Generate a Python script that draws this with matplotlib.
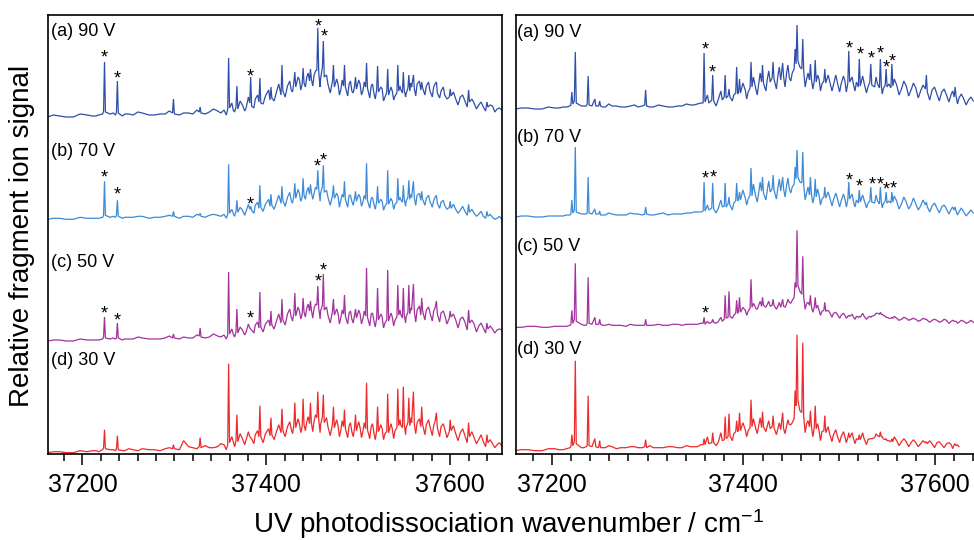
import numpy as np
import matplotlib
matplotlib.use("Agg")
import matplotlib.pyplot as plt
from matplotlib.ticker import MultipleLocator, FuncFormatter

plt.rcParams['font.family'] = ['Liberation Sans', 'DejaVu Sans']
plt.rcParams['mathtext.fontset'] = 'custom'
plt.rcParams['mathtext.rm'] = 'Liberation Sans'
plt.rcParams['mathtext.it'] = 'Liberation Sans:italic'

nan = np.nan

# ---------------- data: left panel (wavenumber, cm^-1) ----------------
# main sampling points (band peaks and their feet)
left_x = [
    37162, 37175, 37190, 37205, 37215, 37222, 37223, 37224, 37225, 37230,
    37236, 37237, 37238, 37239, 37246, 37255, 37265, 37278, 37290, 37298,
    37299, 37300, 37310, 37320, 37327, 37328, 37329, 37338, 37347, 37354,
    37358, 37359, 37360, 37364, 37367, 37368, 37369, 37374, 37378, 37382,
    37383, 37384, 37388, 37392, 37393, 37394, 37399, 37404, 37405, 37406,
    37411, 37416, 37417, 37418, 37423, 37427, 37430, 37431, 37432, 37436,
    37439, 37440, 37441, 37444, 37447, 37448, 37449, 37452, 37455, 37456,
    37457, 37459, 37461, 37462, 37463, 37467, 37472, 37473, 37474, 37478,
    37481, 37484, 37485, 37486, 37490, 37493, 37496, 37497, 37498, 37502,
    37505, 37508, 37509, 37510, 37514, 37517, 37520, 37521, 37522, 37526,
    37529, 37531, 37532, 37533, 37537, 37540, 37542, 37543, 37544, 37546,
    37548, 37549, 37550, 37552, 37554, 37555, 37556, 37558, 37560, 37561,
    37564, 37568, 37569, 37570, 37574, 37578, 37582, 37585, 37586, 37590,
    37594, 37599, 37600, 37601, 37606, 37611, 37616, 37620, 37621, 37626,
    37631, 37636, 37640, 37641, 37646, 37651, 37656,
]
left_a_90V = [
    0, 1, 0, 2, 1, 3, 6, 55, 5, 3,
    2, 5, 36, 4, 3, 2, 4, 2, 3, 4,
    18, 3, 4, 3, 5, 10, 4, 5, 6, 7,
    8, 59, 9, 7, 10, 31, 8, 12, 9, 14,
    40, 11, 18, 15, 39, 14, 21, 17, 30, 19,
    25, 22, 52, 26, 31, 27, 35, 45, 30, 37,
    33, 49, 34, 40, 36, 48, 38, 42, 47, 89,
    44, 38, 50, 76, 40, 33, 36, 52, 30, 33,
    27, 31, 52, 30, 33, 26, 31, 40, 28, 33,
    26, 30, 54, 29, 31, 24, 27, 51, 25, 28,
    20, 25, 48, 22, 26, 21, 24, 52, 26, 28,
    24, 45, 27, 23, 29, 42, 26, 30, 42, 28,
    33, 27, 35, 29, 31, 26, 30, 35, 24, 26,
    22, 20, 28, 21, 18, 20, 16, 27, 15, 14,
    12, 10, 15, 10, 11, 8, 7,
]
left_b_70V = [
    0, 1, 0, 1, 1, 2, 4, 38, 4, 2,
    2, 4, 19, 3, 2, 2, 3, 2, 3, 3,
    8, 3, 3, 2, 4, 6, 3, 4, 4, 5,
    5, 55, 6, 6, 8, 19, 7, 9, 8, 10,
    13, 9, 14, 11, 34, 12, 15, 13, 25, 14,
    17, 16, 33, 19, 22, 19, 24, 36, 21, 26,
    22, 41, 24, 28, 25, 35, 27, 26, 30, 49,
    30, 26, 33, 54, 27, 22, 24, 34, 21, 23,
    19, 22, 38, 20, 24, 18, 21, 28, 18, 22,
    17, 20, 56, 19, 21, 15, 18, 33, 16, 18,
    13, 16, 49, 15, 18, 15, 17, 41, 19, 20,
    17, 34, 20, 18, 22, 39, 20, 22, 38, 21,
    24, 19, 28, 20, 21, 18, 19, 24, 16, 17,
    14, 12, 18, 11, 10, 9, 8, 15, 7, 6,
    5, 3, 8, 3, 2, 1, 0,
]
left_c_50V = [
    0, 1, 0, 1, 1, 2, 4, 24, 3, 2,
    2, 3, 18, 3, 2, 2, 3, 2, 3, 3,
    7, 3, 4, 3, 5, 13, 4, 4, 5, 6,
    6, 69, 7, 7, 9, 32, 8, 11, 9, 13,
    12, 11, 16, 13, 49, 14, 17, 15, 30, 16,
    20, 18, 42, 21, 27, 24, 28, 48, 25, 30,
    27, 43, 29, 33, 30, 40, 31, 33, 36, 55,
    33, 30, 36, 67, 31, 26, 30, 42, 26, 28,
    23, 27, 46, 25, 28, 22, 26, 32, 23, 27,
    22, 25, 73, 24, 27, 20, 23, 53, 21, 24,
    18, 21, 71, 20, 24, 21, 24, 56, 26, 27,
    23, 53, 26, 24, 29, 56, 27, 31, 57, 29,
    31, 26, 43, 30, 31, 28, 30, 40, 27, 28,
    26, 23, 30, 24, 21, 22, 19, 31, 18, 17,
    15, 13, 18, 12, 12, 11, 11,
]
left_d_30V = [
    0, 1, 0, 1, 2, 3, 5, 23, 4, 3,
    2, 4, 17, 3, 2, 3, 4, 3, 4, 4,
    8, 4, 12, 5, 6, 15, 5, 5, 6, 8,
    8, 89, 10, 11, 12, 38, 11, 14, 13, 16,
    15, 14, 18, 16, 47, 16, 19, 17, 35, 18,
    21, 20, 44, 22, 26, 24, 28, 50, 25, 29,
    26, 54, 28, 31, 29, 50, 30, 32, 35, 61,
    33, 28, 36, 58, 30, 26, 29, 46, 25, 27,
    22, 26, 43, 24, 27, 21, 25, 38, 22, 25,
    21, 24, 70, 23, 26, 20, 22, 46, 21, 24,
    19, 21, 59, 20, 24, 22, 25, 64, 27, 28,
    25, 66, 28, 25, 30, 55, 27, 30, 61, 28,
    30, 26, 46, 28, 28, 26, 27, 40, 25, 26,
    24, 21, 33, 22, 19, 20, 17, 30, 16, 15,
    13, 11, 18, 10, 9, 8, 7,
]
# extra sampling points between the bands (the dense weak structure)
left_gx = [
    37168.5, 37182.5, 37197.5, 37210.5, 37217.5, 37233.5, 37243.5, 37250.5, 37260.5, 37272.5,
    37284.5, 37294.5, 37305.5, 37315.5, 37324.5, 37333.5, 37342.5, 37350.5,
    37356.5, 37362.5, 37365.5, 37371.5, 37376.5, 37380.5, 37386.5, 37390.5, 37396.5, 37402.5,
    37408.5, 37413.5, 37420.5, 37425.5, 37428.5, 37434.5, 37437.5, 37442.5, 37445.5, 37450.5,
    37453.5, 37458.5, 37465.5, 37469.5, 37476.5, 37479.5, 37482.5, 37488.5, 37491.5, 37494.5,
    37500.5, 37503.5, 37506.5, 37512.5, 37515.5, 37518.5, 37524.5, 37527.5, 37535.5, 37538.5,
    37545.5, 37551.5, 37557.5, 37562.5, 37566.5, 37572.5, 37576.5, 37580.5, 37583.5, 37588.5,
    37592.5, 37596.5, 37603.5, 37608.5, 37613.5, 37618.5, 37623.5, 37628.5, 37633.5, 37638.5,
    37643.5, 37648.5, 37653.5,
]
left_ga_90V = [
    2, 0, 3, 1, 2, 4, 1, 3, 5, 2,
    3, 6, 2, 4, 7, 3, 8, 4,
    2, 14, 5, 16, 6, 20, 9, 22, 13, 27,
    16, 33, 20, 36, 25, 40, 27, 30, 44, 31,
    46, 30, 42, 24, 38, 22, 37, 21, 36, 24,
    37, 22, 35, 19, 33, 18, 30, 16, 30, 17,
    31, 20, 34, 21, 36, 22, 35, 20, 33, 19,
    30, 18, 25, 12, 22, 10, 18, 8, 15, 6,
    12, 5, 9,
]
left_gb_70V = [
    1, 0, 2, 1, 1, 3, 1, 2, 3, 1,
    2, 4, 1, 3, 5, 2, 5, 3,
    1, 10, 3, 12, 4, 15, 6, 17, 8, 20,
    10, 24, 13, 27, 16, 30, 18, 20, 32, 20,
    32, 18, 29, 14, 26, 12, 25, 12, 24, 14,
    25, 13, 24, 11, 22, 10, 20, 9, 21, 10,
    22, 13, 25, 14, 26, 14, 24, 12, 22, 11,
    19, 10, 15, 6, 13, 4, 10, 3, 8, 1,
    5, 0, 3,
]
left_gc_50V = [
    1, 0, 2, 1, 1, 3, 1, 2, 4, 2,
    2, 5, 2, 3, 6, 3, 7, 4,
    2, 12, 4, 14, 6, 17, 8, 19, 9, 21,
    12, 27, 16, 32, 20, 34, 22, 24, 37, 23,
    37, 22, 34, 18, 32, 17, 31, 17, 30, 18,
    31, 17, 30, 15, 28, 14, 27, 13, 28, 15,
    31, 18, 33, 19, 35, 21, 34, 20, 33, 19,
    30, 17, 27, 13, 24, 11, 21, 9, 18, 8,
    15, 8, 12,
]
left_gd_30V = [
    1, 0, 2, 2, 1, 3, 2, 4, 2, 3,
    2, 5, 3, 6, 4, 7, 5, 9,
    3, 16, 6, 19, 8, 21, 9, 22, 10, 24,
    13, 28, 16, 31, 19, 34, 20, 22, 36, 21,
    38, 20, 35, 17, 33, 16, 32, 15, 30, 16,
    31, 15, 30, 14, 29, 13, 28, 13, 29, 14,
    33, 18, 35, 19, 34, 18, 33, 17, 31, 16,
    29, 15, 27, 12, 24, 10, 21, 9, 18, 6,
    13, 5, 10,
]

# ---------------- data: right panel ----------------
right_x = [
    37162, 37175, 37190, 37203, 37212, 37219, 37220, 37221, 37222, 37223.6,
    37224.6, 37225.6, 37231, 37236, 37237, 37238, 37239, 37242, 37245, 37246,
    37249, 37250, 37251, 37256, 37263, 37272, 37282, 37290, 37297, 37298,
    37299, 37306, 37316, 37326, 37336, 37345, 37352, 37358, 37359, 37360,
    37364, 37367, 37368, 37369, 37374, 37378, 37380, 37381, 37382, 37384,
    37385, 37386, 37390, 37392, 37393, 37394, 37395, 37396, 37397, 37402,
    37405, 37407, 37408, 37409, 37413, 37416, 37419, 37420, 37421, 37425,
    37428, 37430, 37431, 37432, 37436, 37439, 37441, 37442, 37445, 37448,
    37451, 37453, 37454, 37455, 37456, 37457, 37459, 37461, 37462, 37463,
    37466, 37469, 37470, 37471, 37474, 37475, 37476, 37479, 37482, 37484,
    37485, 37486, 37490, 37494, 37498, 37502, 37506, 37509, 37510, 37511,
    37515, 37518, 37520, 37521, 37522, 37526, 37530, 37532, 37533, 37534,
    37537, 37540, 37542, 37543, 37544, 37546, 37548, 37549, 37550, 37552,
    37554, 37555, 37556, 37560, 37565, 37570, 37575, 37580, 37585, 37590,
    37591, 37592, 37597, 37602, 37607, 37612, 37617, 37620, 37621, 37622,
    37625, 37630, 37635, 37640,
]
right_a_90V = [
    0, 1, 0, 1, 2, 3, 4, 17, 5, 8,
    57, 6, 3, 3, 5, 33, 4, 3, 10, 3,
    3, 8, 3, 2, 3, 2, 3, 2, 4, 19,
    3, 2, 3, 2, 3, 4, 5, 6, 56, 7,
    6, 9, 34, 8, 10, 9, 12, 34, 11, 13,
    20, 12, 14, 16, 42, 15, 17, 30, 16, 19,
    17, 21, 47, 22, 20, 25, 27, 44, 26, 30,
    27, 31, 47, 30, 33, 29, 46, 32, 35, 31,
    36, 40, 60, 45, 84, 48, 42, 40, 70, 38,
    30, 29, 45, 30, 28, 49, 27, 30, 25, 28,
    40, 26, 28, 24, 27, 25, 28, 26, 58, 27,
    24, 27, 22, 50, 23, 26, 22, 27, 45, 24,
    22, 25, 21, 50, 23, 20, 24, 40, 22, 25,
    21, 45, 23, 24, 20, 23, 19, 21, 18, 20,
    34, 17, 19, 15, 17, 14, 15, 12, 22, 13,
    11, 10, 9, 8,
]
right_b_70V = [
    0, 1, 0, 1, 1, 2, 3, 17, 4, 7,
    70, 5, 3, 3, 4, 40, 4, 3, 8, 3,
    3, 6, 2, 2, 3, 2, 4, 3, 3, 10,
    3, 2, 4, 3, 3, 4, 5, 6, 35, 6,
    7, 9, 34, 8, 9, 10, 11, 34, 10, 13,
    20, 12, 14, 16, 34, 16, 18, 25, 17, 19,
    18, 22, 49, 21, 20, 24, 26, 40, 24, 27,
    25, 28, 42, 27, 29, 26, 40, 28, 31, 28,
    30, 33, 50, 38, 67, 40, 35, 34, 65, 32,
    24, 22, 40, 23, 21, 38, 20, 22, 18, 20,
    30, 19, 20, 17, 19, 16, 18, 17, 35, 18,
    15, 17, 14, 27, 15, 17, 14, 16, 30, 15,
    14, 16, 13, 30, 15, 13, 16, 25, 14, 16,
    14, 25, 15, 16, 13, 15, 12, 13, 11, 12,
    15, 10, 11, 9, 10, 8, 8, 7, 10, 6,
    5, 5, 4, 4,
]
right_c_50V = [
    0, 1, 0, 1, 1, 2, 3, 17, 4, 8,
    64, 6, 3, 2, 4, 50, 4, 3, 10, 3,
    3, 8, 3, 2, 2, 2, 3, 2, 2, 8,
    2, 2, 2, 3, 2, 3, 3, 4, 10, 3,
    4, 5, 8, 5, 6, 6, 8, 32, 9, 10,
    36, 11, 12, 14, 27, 14, 16, 30, 15, 17,
    16, 19, 48, 20, 19, 22, 21, 30, 22, 23,
    21, 22, 28, 22, 21, 20, 28, 21, 23, 25,
    27, 30, 45, 40, 97, 42, 36, 33, 71, 30,
    24, 22, 32, 21, 20, 30, 19, 17, 16, 17,
    25, 16, 15, 14, 13, 12, 12, 11, 12, 11,
    10, 11, 10, 11, 10, 11, 10, 11, 10, 11,
    12, 14, 13, 15, 13, 12, 11, 10, 10, 9,
    9, 10, 9, 9, 8, 9, 8, 8, 7, 8,
    8, 7, 7, 7, 6, 7, 6, 6, 6, 6,
    5, 6, 5, 5,
]
right_d_30V = [
    0, 1, 0, 2, 1, 3, 4, 16, 5, 9,
    90, 7, 3, 4, 5, 55, 5, 4, 12, 4,
    3, 10, 3, 3, 4, 3, 4, 3, 4, 11,
    3, 3, 3, 4, 3, 4, 4, 6, 12, 6,
    7, 8, 18, 8, 9, 10, 11, 34, 12, 14,
    37, 15, 17, 19, 30, 19, 21, 38, 20, 21,
    20, 23, 51, 24, 22, 25, 23, 39, 24, 25,
    22, 24, 35, 23, 22, 21, 38, 22, 24, 26,
    28, 32, 60, 45, 116, 50, 40, 38, 108, 34,
    27, 24, 40, 25, 23, 45, 22, 20, 19, 20,
    35, 18, 17, 16, 15, 14, 14, 13, 18, 13,
    12, 12, 11, 16, 11, 12, 11, 12, 12, 12,
    13, 15, 14, 19, 14, 12, 11, 12, 10, 10,
    9, 12, 9, 10, 9, 9, 8, 8, 7, 8,
    9, 7, 7, 8, 6, 7, 6, 6, 7, 5,
    4, nan, nan, nan,
]
right_gx = [
    37168.5, 37182.5, 37196.5, 37207.5, 37215.5, 37233.5, 37253.5, 37259.5, 37267.5, 37277.5,
    37286.5, 37294.5, 37302.5, 37311.5, 37321.5, 37331.5, 37340.5, 37348.5, 37355.5,
    37362.5, 37371.5, 37376.5, 37388.5, 37399.5, 37403.5, 37410.5, 37414.5, 37417.5, 37423.5,
    37426.5, 37434.5, 37437.5, 37443.5, 37446.5, 37449.5, 37464.5, 37467.5, 37472.5, 37477.5,
    37480.5, 37488.5, 37492.5, 37496.5, 37500.5, 37504.5, 37507.5, 37513.5, 37516.5, 37524.5,
    37528.5, 37538.5, 37545.0, 37557.5, 37562.5, 37567.5, 37572.5, 37577.5, 37582.5, 37587.5,
    37594.5, 37599.5, 37604.5, 37609.5, 37614.5, 37618.5, 37623.5, 37627.5, 37632.5, 37637.5,
]
right_ga_90V = [
    1, 0, 2, 1, 2, 3, 2, 5, 3, 2,
    4, 3, 2, 4, 2, 3, 5, 4, 6,
    14, 3, 18, 8, 26, 10, 32, 14, 36, 18,
    38, 20, 42, 22, 44, 28, 22, 36, 20, 34,
    18, 34, 18, 34, 17, 33, 17, 32, 18, 33,
    16, 32, 15, 30, 14, 28, 13, 26, 11, 24,
    9, 22, 8, 20, 7, 18, 5, 15, 4, 12,
]
right_gb_70V = [
    1, 0, 1, 1, 2, 3, 2, 4, 2, 2,
    3, 2, 2, 3, 2, 3, 4, 5, 5,
    12, 4, 17, 7, 27, 12, 33, 15, 35, 17,
    36, 18, 38, 20, 39, 24, 17, 30, 14, 28,
    12, 25, 11, 24, 10, 23, 10, 23, 10, 22,
    9, 22, 9, 21, 8, 20, 8, 19, 7, 17,
    5, 14, 4, 12, 3, 10, 2, 9, 1, 7,
]
right_gc_50V = [
    0, 1, 0, 1, 1, 2, 2, 3, 2, 1,
    2, 2, 2, 3, 2, 3, 3, 3, 4,
    6, 4, 10, 9, 20, 12, 24, 18, 26, 20,
    26, 18, 25, 20, 28, 24, 18, 25, 15, 22,
    12, 17, 10, 15, 9, 14, 9, 13, 8, 14,
    8, 14, 13, 11, 7, 10, 7, 9, 6, 9,
    5, 8, 5, 8, 4, 7, 4, 7, 4, 7,
]
right_gd_30V = [
    1, 0, 2, 1, 2, 3, 3, 5, 2, 3,
    4, 3, 5, 3, 4, 3, 5, 4, 6,
    14, 5, 18, 10, 28, 14, 32, 17, 33, 19,
    30, 16, 28, 17, 31, 26, 18, 30, 14, 27,
    10, 24, 9, 21, 8, 19, 8, 18, 7, 18,
    6, 17, 14, 14, 5, 12, 4, 11, 4, 10,
    10, 3, 9, 3, 8, 2, 6, nan, nan, nan,
]

trace_labels = ["(a) 90 V", "(b) 70 V", "(c) 50 V", "(d) 30 V"]
trace_colors = ["#2f4ea8", "#3d8ad6", "#a2329c", "#ec2a2c"]

# asterisk-marked bands: wavenumber and height above trace baseline
left_star_x = [[37224, 37238, 37383, 37456, 37463],
               [37224, 37238, 37383, 37455, 37462],
               [37224, 37238, 37383, 37457, 37462],
               []]
left_star_h = [[64, 43, 45, 95, 85],
               [46, 29, 19, 57, 63],
               [32, 25, 27, 64, 75],
               []]
right_star_x = [[37360, 37368, 37511, 37522, 37533, 37543, 37549, 37555],
                [37360, 37369, 37510, 37521, 37534, 37543, 37549, 37556],
                [37360],
                []]
right_star_h = [[64, 41, 65, 59, 55, 60, 46, 52],
                [43, 44, 41, 35, 37, 37, 32, 33],
                [18],
                []]

# ---------------- layout ----------------
W, H = 974, 540
fig = plt.figure(figsize=(W / 100, H / 100), dpi=100)

def fx(px):
    return px / W

def fy(py):
    return 1 - py / H

ax_top, ax_bot = 15, 454
axL = fig.add_axes([fx(47.5), fy(ax_bot), fx(501.7 - 47.5), (ax_bot - ax_top) / H])
axR = fig.add_axes([fx(515.7), fy(ax_bot), fx(976 - 515.7), (ax_bot - ax_top) / H])

left_offsets = [337, 234.7, 113, 1.3]
right_offsets = [345, 237, 126.7, 3.3]
left_label_y = [0.962, 0.689, 0.437, 0.212]
right_label_y = [0.960, 0.720, 0.472, 0.237]

panels = [
    (axL, left_x, [left_a_90V, left_b_70V, left_c_50V, left_d_30V],
     left_gx, [left_ga_90V, left_gb_70V, left_gc_50V, left_gd_30V], left_offsets,
     left_label_y, left_star_x, left_star_h, (37162, 37656), 0.008),
    (axR, right_x, [right_a_90V, right_b_70V, right_c_50V, right_d_30V],
     right_gx, [right_ga_90V, right_gb_70V, right_gc_50V, right_gd_30V], right_offsets,
     right_label_y, right_star_x, right_star_h, (37162.4, 37642.8), 0.003),
]

for ax, xs, ys, gxs, gys, offs, laby, sx, sh, xlim, labx in panels:
    for i in range(4):
        assert len(ys[i]) == len(xs) and len(gys[i]) == len(gxs)
        xa = np.concatenate([np.asarray(xs, float), np.asarray(gxs, float)])
        ya = np.concatenate([np.asarray(ys[i], float), np.asarray(gys[i], float)])
        order = np.argsort(xa, kind='stable')
        ax.plot(xa[order], offs[i] + ya[order], color=trace_colors[i], lw=0.9,
                solid_joinstyle='miter')
        ax.text(labx, laby[i], trace_labels[i], transform=ax.transAxes,
                ha='left', va='center', fontsize=13)
        for xx, hh in zip(sx[i], sh[i]):
            ax.text(xx, offs[i] + hh - 9, "*", ha='center', va='baseline',
                    fontsize=13, color='black')
    ax.set_xlim(*xlim)
    ax.set_ylim(0, ax_bot - ax_top)
    ax.set_yticks([])
    ax.xaxis.set_major_locator(MultipleLocator(200))
    ax.xaxis.set_minor_locator(MultipleLocator(20))
    ax.xaxis.set_major_formatter(FuncFormatter(lambda v, p: f"{v:.0f}"))
    ax.tick_params(axis='x', which='major', direction='out', length=8, width=1.1,
                   labelsize=18, pad=6)
    ax.tick_params(axis='x', which='minor', direction='out', length=5, width=1.1)
    for s in ax.spines.values():
        s.set_linewidth(1.2)

fig.text(fx(508), fy(533), "UV photodissociation wavenumber / cm$^{-1}$",
         ha='center', va='baseline', fontsize=20)
fig.text(fx(21.7), fy(236), "Relative fragment ion signal", rotation=90,
         ha='center', va='center', fontsize=20)

fig.savefig("out.png", dpi=100)
